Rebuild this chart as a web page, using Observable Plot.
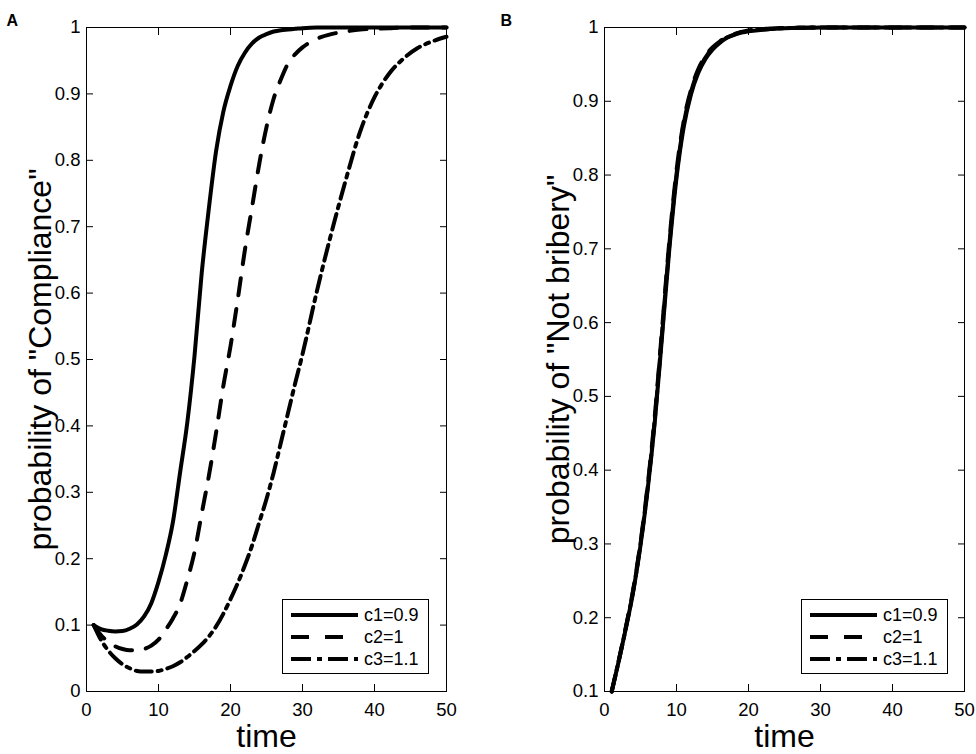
<!DOCTYPE html>
<html><head><meta charset="utf-8">
<script src="https://cdn.jsdelivr.net/npm/d3@7"></script>
<script src="https://cdn.jsdelivr.net/npm/@observablehq/plot@0.6"></script>
<style>
body{margin:0;background:#fff;}
#wrap{position:relative;width:976px;height:754px;font-family:"Liberation Sans",Arial,Helvetica,sans-serif;}
.abs{position:absolute;top:0;}
</style></head><body><div id="wrap"></div>
<script>
// ---- data ----
const time = [1,2,3,4,5,6,7,8,9,10,11,12,13,14,15,16,17,18,19,20,21,22,23,24,25,26,27,28,29,30,32,34,36,38,40,42,44,46,48,50];

// Panel A: probability of "Compliance"
const compC1 = [0.100,0.094,0.0915,0.0905,0.091,0.0945,0.101,0.113,0.133,0.165,0.205,0.255,0.33,0.405,0.505,0.63,0.728,0.814,0.873,0.912,0.942,0.962,0.976,0.985,0.990,0.994,0.996,0.997,0.998,0.999,1,1,1,1,1,1,1,1,1,1];
const compC2 = [0.100,0.085,0.075,0.068,0.064,0.062,0.062,0.064,0.069,0.078,0.093,0.11,0.132,0.168,0.21,0.268,0.325,0.39,0.46,0.52,0.59,0.665,0.73,0.795,0.85,0.893,0.922,0.946,0.96,0.97,0.983,0.99,0.994,0.997,0.998,0.999,1,1,1,1];
const compC3 = [0.100,0.078,0.062,0.05,0.041,0.035,0.031,0.03,0.03,0.031,0.034,0.038,0.044,0.052,0.061,0.071,0.083,0.098,0.117,0.139,0.163,0.19,0.22,0.255,0.29,0.33,0.375,0.42,0.465,0.508,0.603,0.69,0.77,0.843,0.895,0.93,0.953,0.969,0.979,0.986];

// Panel B: probability of "Not bribery"
const notC1 = [0.100,0.142,0.187,0.236,0.298,0.374,0.467,0.582,0.699,0.796,0.865,0.909,0.938,0.957,0.970,0.979,0.986,0.990,0.993,0.995,0.996,0.997,0.998,0.9985,0.999,0.9993,0.9995,0.9997,0.9998,0.9999,1,1,1,1,1,1,1,1,1,1];
const notC2 = [0.100,0.143,0.189,0.239,0.302,0.380,0.475,0.592,0.710,0.806,0.873,0.915,0.943,0.961,0.973,0.981,0.987,0.991,0.994,0.996,0.997,0.998,0.9985,0.999,0.9993,0.9995,0.9997,0.9998,0.9999,1,1,1,1,1,1,1,1,1,1,1];
const notC3 = [0.100,0.1425,0.188,0.2375,0.300,0.377,0.471,0.587,0.705,0.801,0.869,0.912,0.941,0.959,0.972,0.980,0.9865,0.9905,0.9935,0.9955,0.9965,0.9975,0.998,0.9988,0.9992,0.9994,0.9996,0.9998,0.9999,1,1,1,1,1,1,1,1,1,1,1];

const seriesNames = ["c1=0.9","c2=1","c3=1.1"];
const xTicks = [0,10,20,30,40,50];
const yTicksA = [0,0.1,0.2,0.3,0.4,0.5,0.6,0.7,0.8,0.9,1];
const yTicksB = [0.1,0.2,0.3,0.4,0.5,0.6,0.7,0.8,0.9,1];

// ---- styles ----
const dashes = [null, "17,14", "16,6,4,6"];
const FONT = '"Liberation Sans", Arial, Helvetica, sans-serif';
const fmt = d => String(+(+d).toFixed(1));

function rows(values) {
  return values.map((vals, k) => time.map((t, i) => ({t, p: vals[i], s: seriesNames[k], k})));
}

function panel({values, yDomain, yTicks, ylabel, letter, width, ml, mr, letterX}) {
  const data = rows(values);
  const marks = [
    Plot.frame({stroke: "black", strokeWidth: 1}),
    Plot.axisX({ticks: xTicks, tickSize: -7, tickFormat: () => "", label: null}),
    Plot.axisX({anchor: "top", ticks: xTicks, tickSize: -7, tickFormat: () => "", label: null}),
    Plot.axisY({ticks: yTicks, tickSize: -7, tickFormat: () => "", label: null}),
    Plot.axisY({anchor: "right", ticks: yTicks, tickSize: -7, tickFormat: () => "", label: null}),
    Plot.axisX({ticks: xTicks, tickSize: 0, tickPadding: 11, fontSize: 18.5, tickFormat: fmt, label: null}),
    Plot.axisY({ticks: yTicks, tickSize: 0, tickPadding: 6, fontSize: 18.5, tickFormat: fmt, label: null}),
    ...data.map((d, k) => Plot.line(d, {x: "t", y: "p", stroke: "black", strokeWidth: 4,
      strokeDasharray: dashes[k], curve: "monotone-x"})),
    Plot.text([ylabel], {frameAnchor: "left", rotate: -90, dx: -36, lineAnchor: "bottom", textAnchor: "middle", fontSize: 32, text: d => d}),
    Plot.text(["time"], {frameAnchor: "bottom", dy: 55, lineAnchor: "bottom", textAnchor: "middle", fontSize: 32, text: d => d}),
    Plot.text([letter], {frameAnchor: "top-left", dx: -ml + letterX, dy: -2, lineAnchor: "bottom", textAnchor: "start", fontWeight: "bold", fontSize: 16, text: d => d})
  ];
  return Plot.plot({
    width, height: 754,
    marginLeft: ml, marginRight: mr, marginTop: 27, marginBottom: 63,
    x: {domain: [0, 50]},
    y: {domain: yDomain},
    style: {fontFamily: FONT, background: "transparent", overflow: "visible", color: "black"},
    marks
  });
}

const wrap = document.getElementById("wrap");

const A = panel({values: [compC1, compC2, compC3], yDomain: [0, 1], yTicks: yTicksA,
  ylabel: 'probability of "Compliance"', letter: "A", width: 500, ml: 86, mr: 54, letterX: 6});
A.classList.add("abs"); A.style.left = "0px";
wrap.appendChild(A);

const B = panel({values: [notC1, notC2, notC3], yDomain: [0.1, 1], yTicks: yTicksB,
  ylabel: 'probability of "Not bribery"', letter: "B", width: 476, ml: 104, mr: 12, letterX: 0});
B.classList.add("abs"); B.style.left = "500px";
wrap.appendChild(B);

// ---- legends ----
function legend(left, top) {
  const svg = d3.create("svg").attr("width", 147).attr("height", 75)
    .style("position", "absolute").style("left", left + "px").style("top", top + "px");
  svg.append("rect").attr("x", 0.5).attr("y", 0.5).attr("width", 146).attr("height", 74)
    .attr("fill", "white").attr("stroke", "black").attr("stroke-width", 1);
  seriesNames.forEach((name, k) => {
    const y = 16 + k * 22;
    svg.append("line").attr("x1", 9).attr("x2", 76).attr("y1", y).attr("y2", y)
      .attr("stroke", "black").attr("stroke-width", 4)
      .attr("stroke-dasharray", k === 1 ? "18,16" : k === 2 ? "20,6,5,6" : null);
    svg.append("text").attr("x", 82).attr("y", y).attr("dy", "0.35em")
      .attr("font-family", FONT).attr("font-size", 18).text(name);
  });
  wrap.appendChild(svg.node());
}
legend(282, 599);
legend(801, 599);
</script>
</body></html>
